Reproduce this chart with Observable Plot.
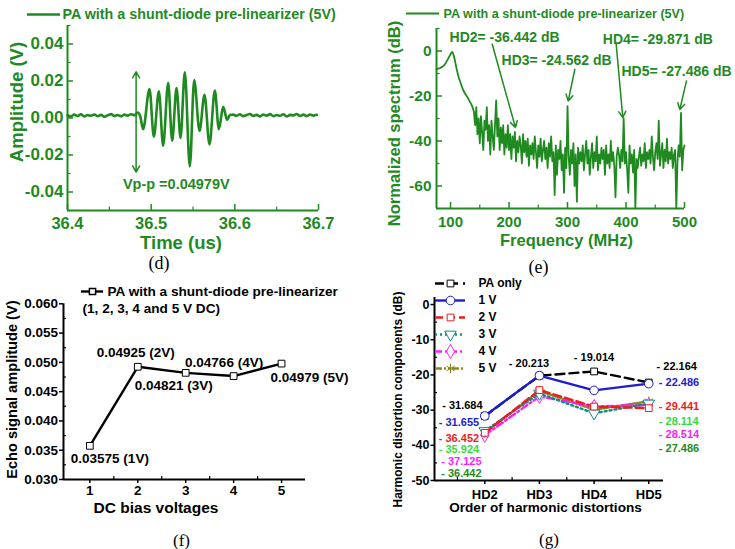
<!DOCTYPE html>
<html><head><meta charset="utf-8">
<script src="https://cdn.jsdelivr.net/npm/d3@7"></script>
<script src="https://cdn.jsdelivr.net/npm/@observablehq/plot@0.6"></script>
<style>
body{margin:0;background:#fff;}
#fig{position:relative;width:735px;height:549px;overflow:hidden;background:#fff;}
</style></head><body><div id="fig"></div>
<script>
// ---------------- DATA ----------------
// (d) echo waveform, PA with shunt-diode pre-linearizer (5V)
const preBurstV = [0.0015,0.0009,0.0018,0.0011,0.0020,0.0008,0.0016,0.0012,0.0019,0.0010,0.0017,0.0007,0.0014,0.0021,0.0011,0.0016,0.0009,0.0018,0.0013,0.0020,0.0015];
const burstT = [36.4840,36.4870,36.4904,36.4980,36.5032,36.5092,36.5143,36.5203,36.5251,36.5303,36.5351,36.5402,36.5462,36.5514,36.5578,36.5637,36.5697,36.5761,36.5809,36.5861,36.5908,36.5940];
const burstV = [0.0030,0.0008,-0.0060,0.0157,-0.0101,0.0145,-0.0150,0.0190,-0.0123,0.0162,-0.0108,0.0247,-0.0262,0.0205,-0.0070,0.0125,-0.0143,0.0148,-0.0060,0.0060,-0.0010,0.0016];
const postBurstV = [0.0018,0.0012,0.0020,0.0010,0.0016,0.0022,0.0011,0.0017,0.0009,0.0019,0.0013,0.0021,0.0010,0.0016,0.0012,0.0020,0.0008,0.0017,0.0014,0.0022,0.0011,0.0018,0.0010,0.0019,0.0013,0.0017];
const vppText = "Vp-p =0.04979V";
const legendText = "PA with a shunt-diode pre-linearizer (5V)";

// (e) normalized spectrum
const specHeadF = [76,82,88,92,96,99,101,103,105,107,109,111,114,117,121,125,129,133,137];
const specHeadDb = [-8.1,-7.6,-6.7,-5.3,-3.4,-1.9,-0.9,-0.4,-1.6,-3.6,-6.2,-8.6,-11.8,-14,-17,-19,-20.6,-22.5,-24.5];
const specNoiseDb = [
 -27,-33,-25,-37,-30,-41,-29,-36,-44,-31,
 -35,-25,-40,-33,-46,-31,-38,-44,-33,-22,
 -38,-30,-44,-34,-41,-33,-46,-37,-43,-33,
 -44,-37,-48,-38,-43,-36,-49,-40,-45,-38,
 -42,-50,-37,-45,-40,-47,-39,-51,-42,-46,
 -41,-48,-38,-45,-52,-42,-47,-39,-49,-44,
 -40,-48,-43,-52,-41,-47,-38,-49,-45,-64,
 -42,-55,-44,-48,-40,-53,-46,-63,-43,-52,
 -24.5,-47,-55,-44,-50,-41,-60,-46,-67,-43,
 -50,-45,-49,-42,-53,-46,-40,-50,-44,-55,
 -47,-41,-52,-45,-49,-38,-53,-46,-50,-43,
 -48,-44,-55,-42,-50,-46,-52,-40,-49,-45,
 -51,-65,-47,-43,-46,-52,-44,-49,-30,-50,
 -45,-53,-63,-42,-50,-46,-54,-44,-70,-48,
 -52,-47,-43,-51,-46,-49,-41,-52,-45,-48,
 -44,-50,-38,-47,-53,-45,-41,-48,-31,-51,
 -46,-41,-52,-44,-49,-39,-50,-45,-48,-43,
 -52,-46,-44,-70,-49,-42,-47,-27.5,-53,-44,
 -42];
const hdNames = ["HD2","HD3","HD4","HD5"];
const hdValues5V = [-36.442,-24.562,-29.871,-27.486];

// (f) echo amplitude vs DC bias
const biasVolts = [1,2,3,4,5];
const echoAmp = [0.03575,0.04925,0.04821,0.04766,0.04979];
const fLegend1 = "PA with a shunt-diode pre-linearizer";
const fLegend2 = "(1, 2, 3, 4 and 5 V DC)";

// (g) harmonic distortion components
const hdOrder = [2,3,4,5];
const seriesNames = ["PA only","1 V","2 V","3 V","4 V","5 V"];
const hdPA = [-31.684,-20.213,-19.014,-22.164];
const hd1V = [-31.655,-20.2,-24.4,-22.486];
const hd2V = [-36.452,-24.3,-29.0,-29.441];
const hd3V = [-35.924,-25.3,-30.9,-28.114];
const hd4V = [-37.125,-26.1,-29.0,-28.514];
const hd5V = [-36.442,-24.562,-29.871,-27.486];

// ---------------- LAYOUT / STYLE ----------------
const GREEN = "#1f8a1f";
const FONT = "'Liberation Sans', Arial, sans-serif";
const SERIF = "'Liberation Serif', 'Times New Roman', serif";
const fig = document.getElementById("fig");
function place(el, left, top){ el.style.position="absolute"; el.style.left=left+"px"; el.style.top=top+"px"; fig.appendChild(el); }
const sty = c => ({color:c, background:"transparent", overflow:"visible", fontFamily:FONT, fontWeight:"bold"});
const T = {textAnchor:"middle", lineAnchor:"middle", text:d=>d};

// ===== (d) =====
{
  const W=367,H=275,ML=67,MR=49,MT=25,MB=65, FW=W-ML-MR, FH=H-MT-MB;
  const rows = [
    ...d3.range(36.4,36.4801,0.004).map((t,i)=>({t, v:preBurstV[i]})),
    ...burstT.map((t,i)=>({t, v:burstV[i]})),
    ...d3.range(36.598,36.7001,0.004).map((t,i)=>({t, v:postBurstV[i]}))
  ];
  const yMaj=[-0.04,-0.02,0,0.02,0.04], yMin=[-0.05,-0.03,-0.01,0.01,0.03,0.05];
  const xMaj=[36.4,36.5,36.6,36.7], xMin=[36.45,36.55,36.65];
  const vpT=36.482, vpTop=0.0250, vpBot=-0.0292, vpMid=(vpTop+vpBot)/2;
  const p = Plot.plot({
    width:W,height:H,marginLeft:ML,marginRight:MR,marginTop:MT,marginBottom:MB,
    x:{domain:[36.4,36.7]}, y:{domain:[-0.05,0.05]}, style:sty(GREEN),
    marks:[
      Plot.tickY(yMaj,{y:d=>d, insetRight:FW-6, stroke:GREEN, strokeWidth:1.5}),
      Plot.tickY(yMin,{y:d=>d, insetRight:FW-3.5, stroke:GREEN, strokeWidth:1.2}),
      Plot.tickX(xMaj,{x:d=>d, insetTop:FH-6, stroke:GREEN, strokeWidth:1.5}),
      Plot.tickX(xMin,{x:d=>d, insetTop:FH-3.5, stroke:GREEN, strokeWidth:1.2}),
      Plot.ruleX([36.4],{stroke:GREEN, strokeWidth:2}),
      Plot.ruleY([-0.05],{stroke:GREEN, strokeWidth:2}),
      Plot.axisY(yMaj,{tickSize:0, tickPadding:4, tickFormat:d=>d.toFixed(2), fontSize:17, label:null}),
      Plot.axisX(xMaj,{tickSize:0, tickPadding:7, tickFormat:d=>d.toFixed(1), fontSize:16.5, label:null}),
      Plot.line(rows,{x:"t", y:"v", stroke:GREEN, strokeWidth:2.6, curve:"monotone-x"}),
      Plot.arrow([vpTop,vpBot],{x1:()=>vpT, y1:()=>vpMid, x2:()=>vpT, y2:d=>d, stroke:GREEN, strokeWidth:1.5, headLength:7}),
      Plot.text([vppText],{x:()=>36.53, y:()=>-0.0357, text:d=>d, fill:GREEN, fontSize:14.5}),
      Plot.text(["Amplitude (V)"],{...T, frameAnchor:"left", rotate:-90, dx:-50, dy:-16, fontSize:18.5, fill:GREEN}),
      Plot.text(["Time (us)"],{...T, frameAnchor:"bottom", dx:-12, dy:33, fontSize:18.5, fill:GREEN}),
      Plot.text(["(d)"],{...T, frameAnchor:"bottom", dx:-34, dy:53, fontSize:18, fill:"#000", fontFamily:SERIF, fontWeight:"normal"})
    ]
  });
  place(p,0,0);
  const lg = Plot.plot({
    width:33+320,height:20,marginLeft:0,marginRight:320,marginTop:0,marginBottom:0,
    x:{domain:[0,1],axis:null}, y:{type:"point",domain:[legendText],padding:0.5,axis:null}, style:sty(GREEN),
    marks:[
      Plot.ruleY([legendText],{stroke:GREEN, strokeWidth:2.4}),
      Plot.text([legendText],{y:d=>d, text:d=>d, frameAnchor:"right", dx:2, textAnchor:"start", lineAnchor:"middle", fontSize:14.3, fill:GREEN})
    ]
  });
  place(lg,27,4);
}

// ===== (e) =====
{
  const W=368,H=275,ML=69,MR=51,MT=28,MB=67, FW=W-ML-MR, FH=H-MT-MB;
  const rows = [
    ...specHeadF.map((f,i)=>({f, db:specHeadDb[i]})),
    ...d3.range(140,501,2).map((f,i)=>({f, db:specNoiseDb[i]}))
  ];
  const yMaj=[0,-20,-40,-60], yMin=[10,-10,-30,-50,-70];
  const xMaj=[100,200,300,400,500], xMin=[150,250,350,450];
  // annotation layout (data units)
  const arrows = [
    {x1:171.3,y1:3,x2:211,y2:-34},
    {x1:312.5,y1:-8.1,x2:301.2,y2:-22.2},
    {x1:383.2,y1:3,x2:394.5,y2:-29.6},
    {x1:503.4,y1:-13.3,x2:492,y2:-26}
  ];
  const labelPos = [[98.3,6.2],[187.2,-4.1],[360.3,5.2],[392.3,-8.9]];
  const labels = hdNames.map((n,i)=>({text:`${n}= ${hdValues5V[i].toFixed(3)} dB`, x:labelPos[i][0], y:labelPos[i][1]}));
  const p = Plot.plot({
    width:W,height:H,marginLeft:ML,marginRight:MR,marginTop:MT,marginBottom:MB,
    x:{domain:[76,500]}, y:{domain:[-70,10]}, style:sty(GREEN),
    marks:[
      Plot.tickY(yMaj,{y:d=>d, insetRight:FW-6, stroke:GREEN, strokeWidth:1.5}),
      Plot.tickY(yMin,{y:d=>d, insetRight:FW-3.5, stroke:GREEN, strokeWidth:1.2}),
      Plot.tickX(xMaj,{x:d=>d, insetTop:FH-6, stroke:GREEN, strokeWidth:1.5}),
      Plot.tickX(xMin,{x:d=>d, insetTop:FH-3.5, stroke:GREEN, strokeWidth:1.2}),
      Plot.line(rows,{x:"f", y:"db", stroke:GREEN, strokeWidth:1.8}),
      Plot.ruleX([76],{stroke:GREEN, strokeWidth:2}),
      Plot.ruleY([-70],{stroke:GREEN, strokeWidth:2}),
      Plot.axisY(yMaj,{tickSize:0, tickPadding:5, tickFormat:d=>String(d), fontSize:15.5, label:null}),
      Plot.axisX(xMaj,{tickSize:0, tickPadding:8, tickFormat:d=>String(d), fontSize:15, label:null}),
      Plot.arrow(arrows,{x1:"x1",y1:"y1",x2:"x2",y2:"y2", stroke:GREEN, strokeWidth:1.5, headLength:7}),
      Plot.text(labels,{x:"x", y:"y", text:"text", textAnchor:"start", fontSize:14, fill:GREEN}),
      Plot.text(["Normalized spectrum (dB)"],{...T, frameAnchor:"left", rotate:-90, dx:-42, dy:5, fontSize:16.5, fill:GREEN}),
      Plot.text(["Frequency (MHz)"],{...T, frameAnchor:"bottom", dx:6, dy:32, fontSize:16.5, fill:GREEN}),
      Plot.text(["(e)"],{...T, frameAnchor:"bottom", dx:-22, dy:59, fontSize:18, fill:"#000", fontFamily:SERIF, fontWeight:"normal"})
    ]
  });
  place(p,367,0);
  const lg = Plot.plot({
    width:33+300,height:20,marginLeft:0,marginRight:300,marginTop:0,marginBottom:0,
    x:{domain:[0,1],axis:null}, y:{type:"point",domain:[legendText],padding:0.5,axis:null}, style:sty(GREEN),
    marks:[
      Plot.ruleY([legendText],{stroke:GREEN, strokeWidth:2.2}),
      Plot.text([legendText],{y:d=>d, text:d=>d, frameAnchor:"right", dx:4, textAnchor:"start", lineAnchor:"middle", fontSize:12.6, fill:GREEN})
    ]
  });
  place(lg,405.7,2.7);
}

// ===== (f) =====
{
  const W=367,H=274,ML=63,MR=62,MT=28.3,MB=70, FW=W-ML-MR, FH=H-MT-MB;
  const rows = biasVolts.map((b,i)=>({b, a:echoAmp[i], label:`${echoAmp[i]} (${b}V)`}));
  const labelOffsets = [[20,12.4],[-2,-13.6],[-12,12.6],[-9.5,-13.3],[28,14.5]];
  const yMaj=[0.030,0.035,0.040,0.045,0.050,0.055,0.060], yMin=[0.0325,0.0375,0.0425,0.0475,0.0525,0.0575];
  const xMaj=[1,2,3,4,5], xMin=[1.5,2.5,3.5,4.5];
  const p = Plot.plot({
    width:W,height:H,marginLeft:ML,marginRight:MR,marginTop:MT,marginBottom:MB,
    x:{domain:[0.45,5.5]}, y:{domain:[0.030,0.060]}, style:sty("#000"),
    marks:[
      Plot.tickY(yMin,{y:d=>d, insetRight:FW-3, stroke:"#000", strokeWidth:1.2}),
      Plot.tickX(xMin,{x:d=>d, insetTop:FH-3, stroke:"#000", strokeWidth:1.2}),
      Plot.ruleX([0.45],{stroke:"#000", strokeWidth:2}),
      Plot.ruleY([0.030],{stroke:"#000", strokeWidth:2}),
      Plot.axisY(yMaj,{tickSize:4, tickPadding:1.5, strokeWidth:1.5, tickFormat:d=>d.toFixed(3), fontSize:13.5, label:null}),
      Plot.axisX(xMaj,{tickSize:4, tickPadding:2, strokeWidth:1.5, tickFormat:d=>String(d), fontSize:13.5, label:null}),
      Plot.line(rows,{x:"b", y:"a", stroke:"#000", strokeWidth:2.4}),
      Plot.dot(rows,{x:"b", y:"a", symbol:"square", r:3.8, fill:"#fff", stroke:"#000", strokeWidth:1}),
      ...rows.map((r,i)=>Plot.text([r],{x:"b", y:"a", text:"label", dx:labelOffsets[i][0], dy:labelOffsets[i][1], fontSize:13.5, fill:"#000"})),
      Plot.text(["Echo signal amplitude (V)"],{...T, frameAnchor:"left", rotate:-90, dx:-51, dy:-2, fontSize:14.6, fill:"#000"}),
      Plot.text(["DC bias voltages"],{...T, frameAnchor:"bottom", dx:-28.5, dy:29, fontSize:15.5, fill:"#000"}),
      Plot.text(["(f)"],{...T, frameAnchor:"bottom", dx:-3, dy:61, fontSize:17, fill:"#000", fontFamily:SERIF, fontWeight:"normal"})
    ]
  });
  place(p,0,275);
  const lg = Plot.plot({
    width:22+320,height:18,marginLeft:0,marginRight:320,marginTop:0,marginBottom:0,
    x:{domain:[0,1],axis:null}, y:{type:"point",domain:[fLegend1],padding:0.5,axis:null}, style:sty("#000"),
    marks:[
      Plot.ruleY([fLegend1],{stroke:"#000", strokeWidth:2.4}),
      Plot.dot([fLegend1],{y:d=>d, frameAnchor:"middle", symbol:"square", r:3.5, fill:"#fff", stroke:"#000"}),
      Plot.text([fLegend1],{y:d=>d, text:d=>d, frameAnchor:"right", dx:4, textAnchor:"start", lineAnchor:"middle", fontSize:13.6, fill:"#000"}),
      Plot.text([fLegend2],{y:()=>fLegend1, text:d=>d, frameAnchor:"left", dx:1, dy:17, textAnchor:"start", lineAnchor:"middle", fontSize:13.6, fill:"#000"})
    ]
  });
  place(lg,81,282);
}

// ===== (g) =====
{
  const W=368,H=274,ML=67,MR=72,MT=22,MB=69, FW=W-ML-MR, FH=H-MT-MB;
  const values = [hdPA,hd1V,hd2V,hd3V,hd4V,hd5V];
  const look = [
    {stroke:"#000000", dash:"9,5", symbol:"square", rotate:0, label:"#000000", r:3.8},
    {stroke:"#1c1cd0", dash:null, symbol:"circle", rotate:0, label:"#1c1cd0", r:4.3},
    {stroke:"#ee1c1c", dash:"8,4", symbol:"square", rotate:0, label:"#ee1c1c", r:3.8},
    {stroke:"#118b8b", dash:"2,3", symbol:"triangle", rotate:180, label:"#3ad83a", r:4.3},
    {stroke:"#ff1aff", dash:"7,3,2,3", symbol:"diamond", rotate:0, label:"#ff1aff", r:4.3},
    {stroke:"#86861a", dash:"7,2,2,2,2,2", symbol:"asterisk", rotate:0, label:"#228b22", r:4.5}
  ];
  const series = seriesNames.map((name,k)=>({name, rows: hdOrder.map((h,i)=>({h, v:values[k][i]}))}));
  const leftOff = [[-42.6,-10.6],[-46,6.2],[-46,5.9],[-46,18.7],[-43.6,25.9],[-43.6,40.3]];
  const rightOff = [[7.8,-16.4],[10.1,-1.5],[10.1,-1.7],[10.1,18],[10.1,29.6],[10.1,47.5]];
  const topOff = [[-30.6,-11.9],[-20.3,-14.3]];
  const fmt = v => "- " + Math.abs(v).toFixed(3);
  const yMaj=[0,-10,-20,-30,-40,-50], yMin=[-5,-15,-25,-35,-45];
  const xMaj=[2,3,4,5], xMin=[1.5,2.5,3.5,4.5];
  const drawOrder = [5,4,3,2,0,1];
  const p = Plot.plot({
    width:W,height:H,marginLeft:ML,marginRight:MR,marginTop:MT,marginBottom:MB,
    x:{domain:[1.08,5.27]}, y:{domain:[-50,2]}, style:sty("#000"),
    marks:[
      Plot.tickY(yMin,{y:d=>d, insetRight:FW-3, stroke:"#000", strokeWidth:1.2}),
      Plot.tickX(xMin,{x:d=>d, insetTop:FH-3, stroke:"#000", strokeWidth:1.2}),
      Plot.ruleX([1.08],{stroke:"#000", strokeWidth:2}),
      Plot.ruleY([-50],{stroke:"#000", strokeWidth:2}),
      Plot.axisY(yMaj,{tickSize:3.5, tickPadding:1.5, strokeWidth:1.5, tickFormat:d=>String(d), fontSize:12.5, label:null}),
      Plot.axisX(xMaj,{tickSize:4, tickPadding:5, strokeWidth:1.5, tickFormat:d=>"HD"+d, fontSize:13, label:null}),
      ...drawOrder.flatMap(k=>[
        Plot.line(series[k].rows,{x:"h", y:"v", stroke:look[k].stroke, strokeWidth:2.4, strokeDasharray:look[k].dash}),
        Plot.dot(series[k].rows,{x:"h", y:"v", symbol:look[k].symbol, rotate:look[k].rotate, r:look[k].r, fill:look[k].symbol==="asterisk"?"none":"#fff", stroke:look[k].stroke, strokeWidth:1})
      ]),
      ...series.map((s,k)=>Plot.text([s.rows[0]],{x:"h", y:"v", text:d=>fmt(d.v), dx:leftOff[k][0], dy:leftOff[k][1], textAnchor:"start", fontSize:11, fill:look[k].label})),
      ...series.map((s,k)=>Plot.text([s.rows[3]],{x:"h", y:"v", text:d=>fmt(d.v), dx:rightOff[k][0], dy:rightOff[k][1], textAnchor:"start", fontSize:11, fill:look[k].label})),
      ...[1,2].map((i,j)=>Plot.text([series[0].rows[i]],{x:"h", y:"v", text:d=>fmt(d.v), dx:topOff[j][0], dy:topOff[j][1], textAnchor:"start", fontSize:11, fill:"#000"})),
      Plot.text(["Harmonic distortion components (dB)"],{...T, frameAnchor:"left", rotate:-90, dx:-36, dy:10.5, fontSize:12, fill:"#000"}),
      Plot.text(["Order of harmonic distortions"],{...T, frameAnchor:"bottom", dx:-3.5, dy:27.5, fontSize:13.6, fill:"#000"}),
      Plot.text(["(g)"],{...T, frameAnchor:"bottom", dx:0, dy:59, fontSize:17, fill:"#000", fontFamily:SERIF, fontWeight:"normal"})
    ]
  });
  place(p,367,275);
  const rowH = 17.4;
  const lg = Plot.plot({
    width:30+110,height:seriesNames.length*rowH,marginLeft:0,marginRight:110,marginTop:0,marginBottom:0,
    x:{domain:[0,1],axis:null}, y:{type:"point",domain:seriesNames,padding:0.5,axis:null}, style:sty("#000"),
    marks:[
      ...seriesNames.flatMap((n,k)=>[
        Plot.ruleY([n],{stroke:look[k].stroke, strokeWidth:2.4, strokeDasharray:look[k].dash}),
        Plot.dot([n],{y:d=>d, frameAnchor:"middle", symbol:look[k].symbol, rotate:look[k].rotate, r:look[k].r, fill:look[k].symbol==="asterisk"?"none":"#fff", stroke:look[k].stroke, strokeWidth:1})
      ]),
      Plot.text(seriesNames,{y:d=>d, text:d=>d, frameAnchor:"right", dx:13, textAnchor:"start", lineAnchor:"middle", fontSize:12, fill:"#000"})
    ]
  });
  place(lg,435,273.3);
}
</script></body></html>
